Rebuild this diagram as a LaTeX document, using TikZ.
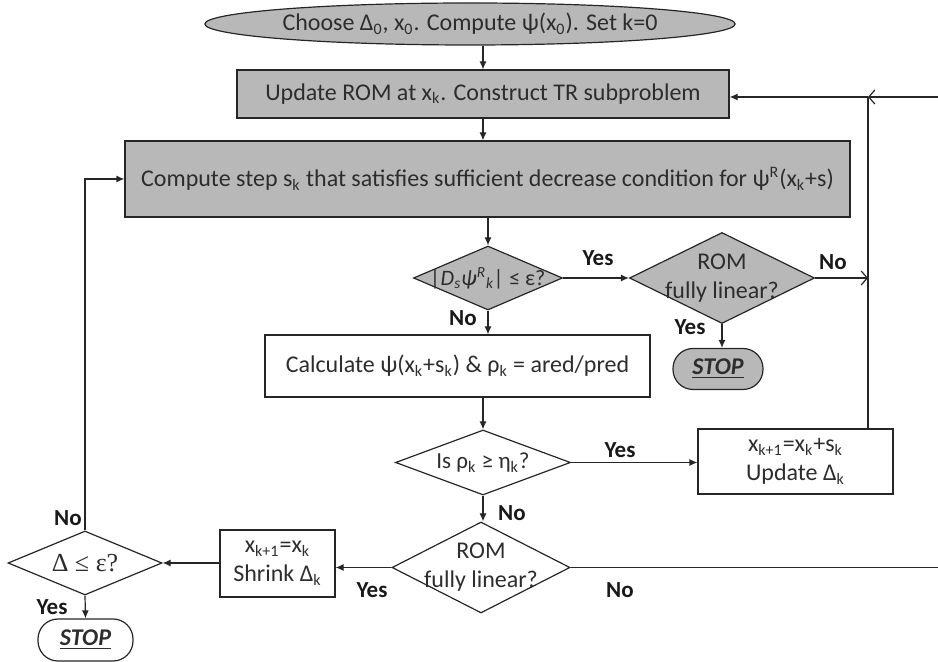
\documentclass[tikz,border=0pt]{standalone}
\usepackage{fontspec}
\setmainfont{Carlito}
\newfontfamily\serifsym{Liberation Serif}
\usetikzlibrary{arrows.meta,shapes.geometric}

\definecolor{boxgray}{RGB}{184,184,184}
\definecolor{inkgray}{RGB}{45,45,45}
\newcommand{\lo}[1]{\textsubscript{#1}}
\newcommand{\hi}[1]{\textsuperscript{#1}}

\tikzset{
  flow/.style={draw=black!85, line width=0.6pt, text=inkgray, inner sep=0pt, align=center},
  proc/.style={flow, rectangle},
  dec/.style={flow, diamond},
  term/.style={flow, rectangle, rounded corners=10pt},
  lbl/.style={inner sep=0pt, font=\fontsize{11.5}{13}\selectfont\bfseries, text=black!90},
  arr/.style={draw=black!85, line width=0.6pt, -{Latex[length=4pt,width=3.5pt]}},
  barb/.style={draw=black!85, line width=0.6pt, -{Straight Barb[length=3pt,width=7pt]}},
  line/.style={draw=black!85, line width=0.6pt}
}

\begin{document}
\begin{tikzpicture}[x=0.5pt,y=-0.5pt,font=\fontsize{12}{14.5}\selectfont]
\useasboundingbox (0,0) rectangle (938,662);

\node[flow, ellipse, fill=boxgray, minimum width=232.5pt, minimum height=21pt] (start) at (470,24)
  {Choose Δ\lo{0}, x\lo{0}. Compute ψ(x\lo{0}). Set k=0};
\node[proc, fill=boxgray, minimum width=246pt, minimum height=24pt] (upd) at (483,94)
  {Update ROM at x\lo{k}. Construct TR subproblem};
\node[proc, fill=boxgray, minimum width=362.5pt, minimum height=38pt] (step) at (487.5,179)
  {Compute step s\lo{k} that satisfies sufficient decrease condition for ψ\hi{R}(x\lo{k}+s)};
\node[dec, fill=boxgray, minimum width=74.5pt, minimum height=32pt] (chk) at (488,278)
  {\makebox[0pt]{\fontsize{11}{13}\selectfont\textit{|D\lo{s}ψ\hi{R}\lo{k}|} ≤ ε?}};
\node[dec, fill=boxgray, minimum width=92.5pt, minimum height=45.5pt] (rom1) at (722,278)
  {\makebox[0pt]{\begin{tabular}{@{}c@{}}ROM\\fully linear?\end{tabular}}};
\node[term, fill=boxgray, minimum width=45pt, minimum height=20.5pt] (stop1) at (718,369)
  {\textbf{\textit{\underline{STOP}}}};
\node[proc, minimum width=192.5pt, minimum height=31pt] (calc) at (457.5,366)
  {Calculate ψ(x\lo{k}+s\lo{k}) \& ρ\lo{k} = ared/pred};
\node[dec, minimum width=87.5pt, minimum height=32.5pt] (rho) at (483,462.5)
  {\makebox[0pt]{\fontsize{11.5}{13}\selectfont Is ρ\lo{k} ≥ η\lo{k}?}};
\node[proc, minimum width=97.5pt, minimum height=32.5pt] (upd2) at (795.5,461.5)
  {x\lo{k+1}=x\lo{k}+s\lo{k}\\Update Δ\lo{k}};
\node[dec, minimum width=89pt, minimum height=45.5pt] (rom2) at (481,567.5)
  {\makebox[0pt]{\begin{tabular}{@{}c@{}}ROM\\fully linear?\end{tabular}}};
\node[proc, minimum width=57.5pt, minimum height=33.5pt] (shrink) at (277.5,563.5)
  {x\lo{k+1}=x\lo{k}\\Shrink Δ\lo{k}};
\node[dec, minimum width=77pt, minimum height=32pt] (tol) at (85,563)
  {\makebox[0pt]{\serifsym\fontsize{13}{15}\selectfont Δ ≤ ε?}};
\node[term, minimum width=47.5pt, minimum height=21pt] (stop2) at (85.5,640)
  {\textbf{\textit{\underline{STOP}}}};

\coordinate (rt) at (868,97);
\coordinate (edgetop) at (938,97);
\coordinate (edgebot) at (938,567.5);

\draw[arr] (start.south -| upd.north) -- (upd.north);
\draw[arr] (upd.south) -- (upd.south |- step.north);
\draw[arr] (step.south -| chk.north) -- (chk.north);
\draw[arr] (chk.east) -- (rom1.west);
\draw[arr] (rom1.south) -- (rom1.south |- stop1.north);
\draw[barb] (rom1.east) -- (rom1.east -| rt);
\draw[arr] (chk.south) -- (chk.south |- calc.north);
\draw[arr] (calc.south -| rho.north) -- (rho.north);
\draw[arr] (rho.east) -- (rho.east -| upd2.west);
\draw[line] (upd2.north -| rt) -- (rt);
\draw[arr] (rt) -- (rt -| upd.east);
\draw[barb] (edgetop) -- (rt);
\draw[arr] (rho.south) -- (rho.south |- rom2.north);
\draw[line] (rom2.east) -- (edgebot);
\draw[arr] (rom2.west) -- (rom2.west -| shrink.east);
\draw[arr] (shrink.west |- tol.east) -- (tol.east);
\draw[arr] (tol.north) |- (step.west);
\draw[arr] (tol.south) -- (stop2.north);

\node[lbl] (yes1) at (598,258) {Yes};
\node[lbl] (no1) at (833,262) {No};
\node[lbl] (yes2) at (690,327) {Yes};
\node[lbl] (no2) at (463,318) {No};
\node[lbl] (yes3) at (620,450) {Yes};
\node[lbl] (no3) at (512,513) {No};
\node[lbl] (no4) at (620,590) {No};
\node[lbl] (yes4) at (372,590) {Yes};
\node[lbl] (no5) at (68,518) {No};
\node[lbl] (yes5) at (52,607) {Yes};
\end{tikzpicture}
\end{document}
